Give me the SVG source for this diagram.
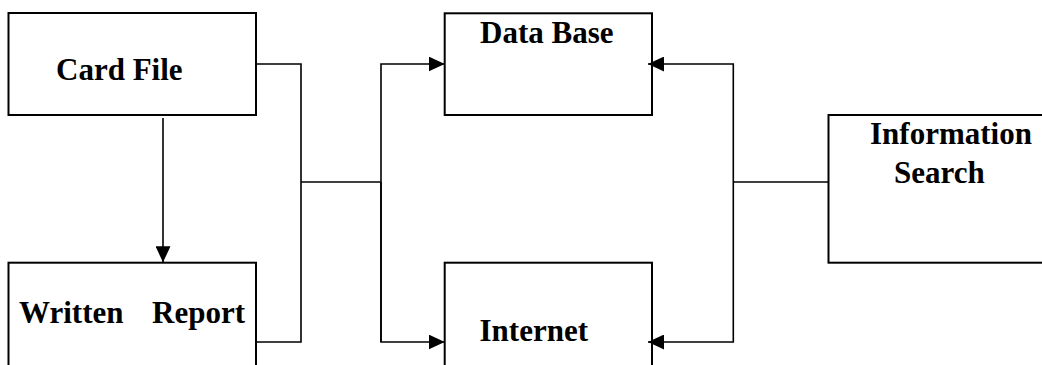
<svg xmlns="http://www.w3.org/2000/svg" width="1042" height="365" viewBox="0 0 1042 365">
<style>
.box{fill:#fff;stroke:#000;stroke-width:2}
.lbl{font-family:"Liberation Serif","Times New Roman",serif;font-weight:bold;font-size:31px;fill:#000}
.con{fill:none;stroke:#000;stroke-width:1.6}
</style>
<defs>
<marker id="arr" markerUnits="userSpaceOnUse" markerWidth="16" markerHeight="15" refX="16" refY="7.5" orient="auto" viewBox="0 0 16 15">
<path d="M0,0 L16,7.5 L0,15 z" fill="#000"/>
</marker>
</defs>
<rect width="1042" height="365" fill="#fff"/>
<g id="card-file">
<rect class="box" x="8.5" y="13" width="247.5" height="102"/>
<text class="lbl" x="56" y="80">Card File</text>
</g>
<g id="written-report">
<rect class="box" x="8.5" y="262.7" width="247.5" height="120"/>
<text class="lbl" y="323"><tspan x="19">Written</tspan><tspan x="152">Report</tspan></text>
</g>
<g id="data-base">
<rect class="box" x="444.7" y="13.3" width="207.3" height="101.7"/>
<text class="lbl" x="480" y="42.7">Data Base</text>
</g>
<g id="internet">
<rect class="box" x="444.7" y="262.7" width="207.3" height="120"/>
<text class="lbl" x="479.5" y="340.7">Internet</text>
</g>
<g id="information-search">
<rect class="box" x="828.5" y="115" width="240" height="147.7"/>
<text class="lbl" x="870" y="144">Information</text>
<text class="lbl" x="894" y="182.7">Search</text>
</g>
<g id="connectors">
<path class="con" d="M163,118 V262.3" marker-end="url(#arr)"/>
<path class="con" d="M256,64 H301 V342 H256"/>
<path class="con" d="M301,182 H381"/>
<path class="con" d="M381,342 V64 H444.7" marker-end="url(#arr)"/>
<path class="con" d="M381,182 V342 H444.7" marker-end="url(#arr)"/>
<path class="con" d="M733.3,182 V64 H648" marker-end="url(#arr)"/>
<path class="con" d="M733.3,182 V342 H648" marker-end="url(#arr)"/>
<path class="con" d="M733.3,182 H828.5"/>
</g>
</svg>
